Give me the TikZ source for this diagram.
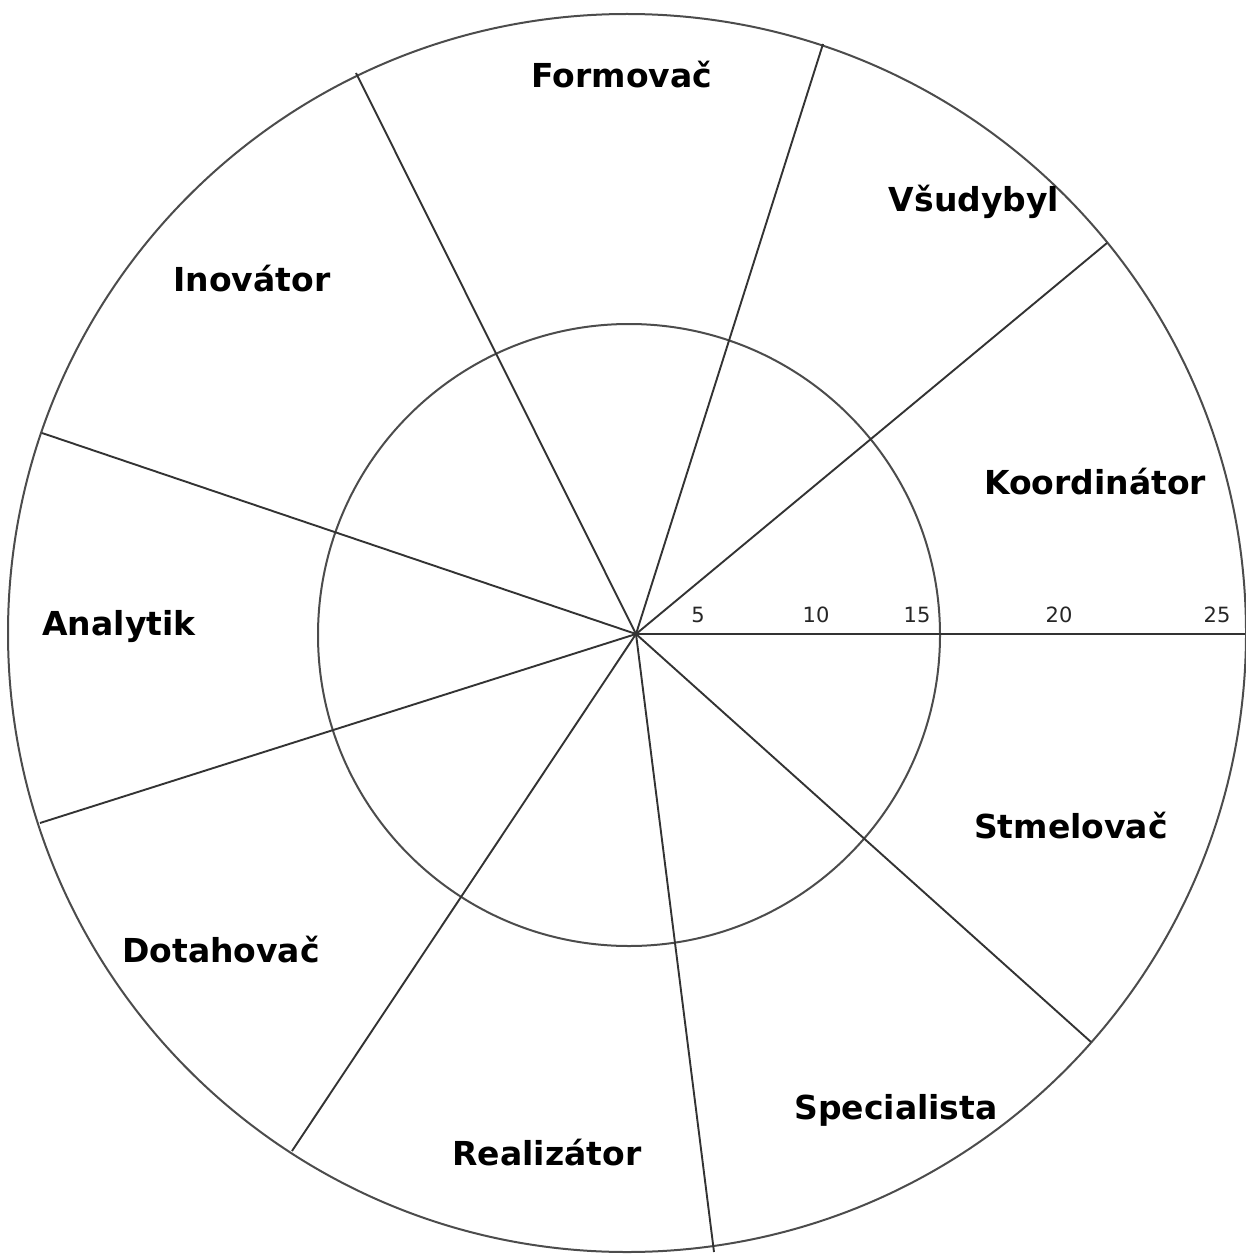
\documentclass[tikz,border=0pt]{standalone}
\usepackage{fontspec}
\setmainfont{DejaVu Sans}
\usepackage{tikz}
\usetikzlibrary{positioning}
\tikzstyle{ring} = [draw=black!70, line width=2pt]
\tikzstyle{spoke} = [draw=black!80, line width=1.9pt]
\tikzstyle{role} = [anchor=base, inner sep=0pt, font=\fontsize{33}{40}\selectfont\bfseries]
\tikzstyle{tick} = [anchor=base, inner sep=0pt, text=black!85, font=\fontsize{21}{25}\selectfont]
\begin{document}
\begin{tikzpicture}[x=1pt, y=-1pt]
\useasboundingbox (0,0) rectangle (1245,1257);

\coordinate (hub) at (636,634);
\coordinate (axisend) at (1245,634);
\coordinate (e1) at (1107,243);
\coordinate (e2) at (823,44);
\coordinate (e3) at (356,73);
\coordinate (e4) at (42,433);
\coordinate (e5) at (40,823);
\coordinate (e6) at (292,1151);
\coordinate (e7) at (714,1252);
\coordinate (e8) at (1091,1042);

% rings
\draw [ring] (629,635) circle (311);
\draw [ring] (627,633) circle (619);

% spokes
\draw [spoke] (hub) -- (axisend);
\draw [spoke] (hub) -- (e1);
\draw [spoke] (hub) -- (e2);
\draw [spoke] (hub) -- (e3);
\draw [spoke] (hub) -- (e4);
\draw [spoke] (hub) -- (e5);
\draw [spoke] (hub) -- (e6);
\draw [spoke] (hub) -- (e7);
\draw [spoke] (hub) -- (e8);

% scale
\node (t5) [tick] at (698,622) {5};
\node (t10) [tick] at (816,622) {10};
\node (t15) [tick] at (917,622) {15};
\node (t20) [tick] at (1059,622) {20};
\node (t25) [tick] at (1217,622) {25};

% roles
\node (formovac) [role] at (622,88) {Formovač};
\node (vsudybyl) [role] at (974,212) {Všudybyl};
\node (inovator) [role] at (252,291) {Inovátor};
\node (koordinator) [role] at (1095,494) {Koordinátor};
\node (analytik) [role] at (119,635) {Analytik};
\node (stmelovac) [role] at (1071,838) {Stmelovač};
\node (dotahovac) [role] at (221,962) {Dotahovač};
\node (specialista) [role] at (896,1119) {Specialista};
\node (realizator) [role] at (547,1165) {Realizátor};

\end{tikzpicture}
\end{document}
